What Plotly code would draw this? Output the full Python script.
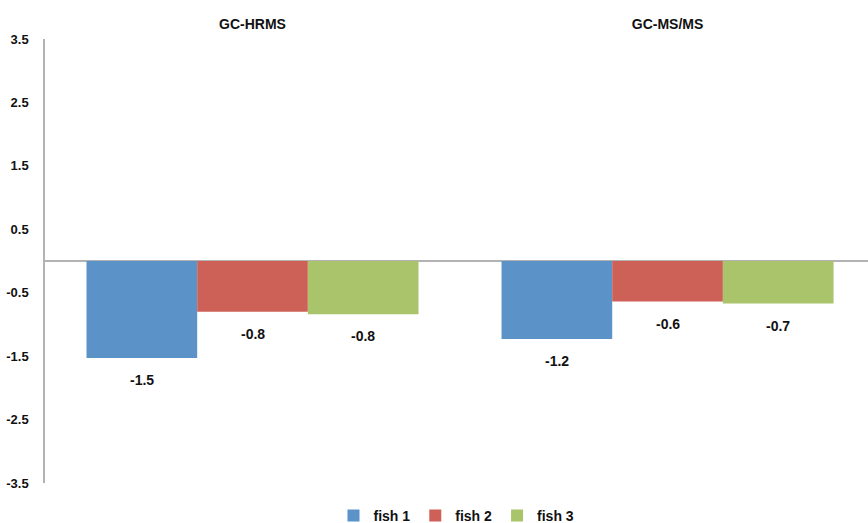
import plotly.graph_objects as go

categories = ["GC-HRMS", "GC-MS/MS"]
series_names = ["fish 1", "fish 2", "fish 3"]
fish1 = [-1.53, -1.23]
fish2 = [-0.80, -0.64]
fish3 = [-0.84, -0.67]
y_ticks = [-3.5, -2.5, -1.5, -0.5, 0.5, 1.5, 2.5, 3.5]

colors = ["#5b93c8", "#cd6158", "#a9c46b"]
FONT = "Liberation Sans Narrow, Arial Narrow, Liberation Sans, Arial, sans-serif"
BARGAP = 0.2

def f(size=14):
    return dict(family=FONT, size=size, color="#111111", weight="bold")

fig = go.Figure()
series = [fish1, fish2, fish3]
n = len(series)
slot = (1 - BARGAP) / n
for i, (name, vals, col) in enumerate(zip(series_names, series, colors)):
    fig.add_trace(go.Bar(
        x=categories, y=vals, name=name,
        marker=dict(color=col, line=dict(width=0)),
        hoverinfo="skip",
    ))
    # value labels below each bar end, placed on the axes' own coordinates
    for ci, v in enumerate(vals):
        fig.add_annotation(
            x=ci + (i - (n - 1) / 2) * slot, y=v, xref="x", yref="y",
            text=f"{v:.1f}", showarrow=False, yanchor="top", yshift=-12,
            font=f(14),
        )

fig.update_layout(
    width=868, height=532,
    margin=dict(l=45, r=0, t=39, b=42),
    paper_bgcolor="white", plot_bgcolor="white",
    barmode="group", bargap=BARGAP, bargroupgap=0,
    font=f(14),
    showlegend=True,
    legend=dict(orientation="h", x=0.5, xanchor="center", y=-0.075, yanchor="middle",
                font=f(14), itemwidth=30, tracegroupgap=0),
    xaxis=dict(side="top", range=[-0.5, 1.483], showline=False, showgrid=False,
               ticks="", tickfont=f(14), ticklabelstandoff=6,
               automargin=False, fixedrange=True),
    yaxis=dict(range=[-3.5, 3.5], tickvals=y_ticks, ticktext=[f"{v:.1f}" for v in y_ticks],
               showline=True, linecolor="#b3b3b3", linewidth=1.5,
               showgrid=False, zeroline=True, zerolinecolor="#b3b3b3", zerolinewidth=1.5,
               ticks="", ticklabelstandoff=12, automargin=False,
               tickfont=f(13), fixedrange=True),
)

post = (
    "document.documentElement.style.margin='0';"
    "document.body.style.margin='0';"
    "document.documentElement.style.overflow='hidden';"
    "document.body.style.overflow='hidden';"
    "var d=document.getElementById('{plot_id}');"
    "d.style.position='fixed';d.style.top='0';d.style.left='0';"
)
fig.write_html("out.html", config={"displayModeBar": False}, post_script=post)
